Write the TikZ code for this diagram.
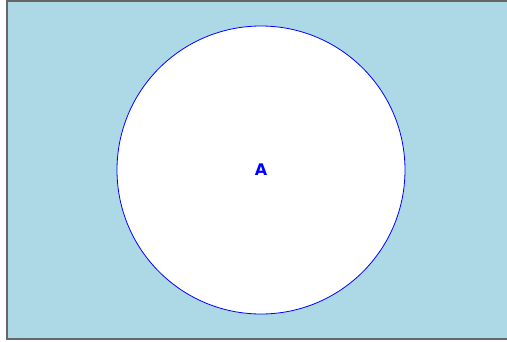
\documentclass[tikz,border=0pt]{standalone}
\usepackage{fontspec}
\setmainfont{DejaVu Sans}
\definecolor{bgblue}{HTML}{ADD8E6}
\definecolor{frame}{HTML}{666666}
\begin{document}
\begin{tikzpicture}[x=1pt,y=-1pt,
  setbox/.style={fill=bgblue,draw=frame,line width=1.3pt},
  setcircle/.style={circle,fill=white,draw=blue,line width=0.8pt,minimum size=288pt,inner sep=0pt},
  setlabel/.style={text=blue,font=\fontsize{16}{19}\selectfont\bfseries}]
\useasboundingbox (0,0) rectangle (507,341);
\path[setbox] (7,1) rectangle (512,339);
\node[setcircle] (A) at (261,170) {};
\node[setlabel] (Alabel) at (A.center) {A};
\end{tikzpicture}
\end{document}
